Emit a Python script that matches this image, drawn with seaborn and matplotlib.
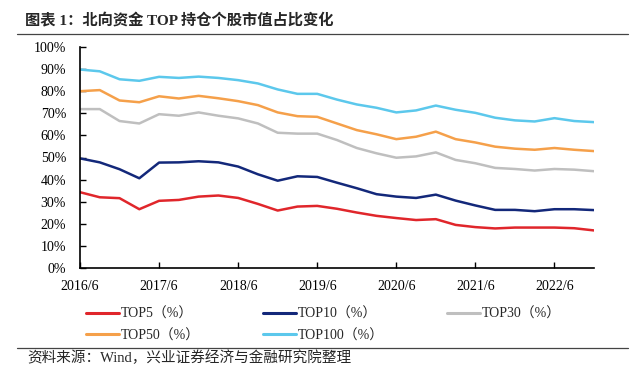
import pandas as pd
import matplotlib.pyplot as plt
import seaborn as sns
from matplotlib.lines import Line2D
from matplotlib.ticker import FuncFormatter

# Quarter-end dates, 2016/6 .. 2022/12
dates = ['2016/6', '2016/9', '2016/12', '2017/3', '2017/6', '2017/9', '2017/12',
         '2018/3', '2018/6', '2018/9', '2018/12', '2019/3', '2019/6', '2019/9',
         '2019/12', '2020/3', '2020/6', '2020/9', '2020/12', '2021/3', '2021/6',
         '2021/9', '2021/12', '2022/3', '2022/6', '2022/9', '2022/12']
tick_labels = ['2016/6', '2017/6', '2018/6', '2019/6', '2020/6', '2021/6', '2022/6']

top5 = [34.3, 32.0, 31.6, 26.6, 30.4, 30.8, 32.3, 32.8, 31.7, 29.0, 26.0, 27.8, 28.1, 26.8,
        25.1, 23.6, 22.6, 21.7, 22.1, 19.5, 18.5, 17.9, 18.3, 18.3, 18.3, 18.0, 17.0]
top10 = [49.6, 47.8, 44.7, 40.6, 47.7, 47.8, 48.3, 47.8, 45.9, 42.4, 39.5, 41.5, 41.2, 38.6,
         36.1, 33.4, 32.3, 31.7, 33.2, 30.5, 28.3, 26.3, 26.3, 25.7, 26.6, 26.6, 26.2]
top30 = [71.9, 71.9, 66.5, 65.4, 69.6, 68.9, 70.4, 68.9, 67.7, 65.4, 61.2, 60.8, 60.8, 57.9,
         54.3, 51.9, 49.9, 50.5, 52.3, 48.9, 47.4, 45.3, 44.8, 44.1, 44.8, 44.5, 43.8]
top50 = [80.0, 80.5, 75.8, 75.0, 77.7, 76.7, 77.9, 76.8, 75.5, 73.7, 70.4, 68.7, 68.4, 65.4,
         62.4, 60.5, 58.3, 59.4, 61.7, 58.3, 56.8, 54.9, 54.0, 53.5, 54.3, 53.5, 52.9]
top100 = [89.8, 89.0, 85.4, 84.7, 86.5, 86.0, 86.6, 86.0, 85.0, 83.5, 80.8, 78.8, 78.8, 76.2,
          74.0, 72.5, 70.4, 71.3, 73.5, 71.6, 70.2, 68.0, 66.8, 66.3, 67.8, 66.5, 66.0]

series_names = ['TOP5（%）', 'TOP10（%）', 'TOP30（%）', 'TOP50（%）', 'TOP100（%）']
colors = ['#E0262B', '#13287A', '#BFBFBF', '#F5A04A', '#5CC8EC']

sns.set_style('ticks')
plt.rcParams['font.family'] = ['Liberation Serif', 'Noto Sans CJK SC', 'DejaVu Sans']
plt.rcParams['axes.unicode_minus'] = False

# long-form frame for seaborn
pos = list(range(len(dates)))
frames = []
for name, vals in zip(series_names, [top5, top10, top30, top50, top100]):
    frames.append(pd.DataFrame({'pos': pos, 'date': dates, 'value': vals, 'series': name}))
df = pd.concat(frames, ignore_index=True)

fig = plt.figure(figsize=(6.4, 3.68), dpi=100, facecolor='white')
ax = fig.add_axes([80 / 640, 1 - 268 / 368, (594 - 80) / 640, (268 - 47) / 368])

sns.lineplot(data=df, x='pos', y='value', hue='series', hue_order=series_names,
             palette=colors, linewidth=1.8, ax=ax, legend=False)

ax.set_xlim(0, len(dates) - 1)
ax.set_ylim(0, 100)
ax.set_yticks(range(0, 101, 10))
ax.yaxis.set_major_formatter(FuncFormatter(lambda v, p: f'{v:.0f}%'))
ax.set_xticks([dates.index(t) for t in tick_labels])
ax.set_xticklabels(tick_labels)
ax.set_xlabel('')
ax.set_ylabel('')
ax.tick_params(axis='both', direction='in', length=4, width=1, colors='black',
               labelsize=10)
ax.tick_params(axis='y', pad=10)
ax.tick_params(axis='x', pad=9)
sns.despine(ax=ax)
for s in ['left', 'bottom']:
    ax.spines[s].set_color('black')
    ax.spines[s].set_linewidth(1.2)

# legend: matplotlib fills columns first, so reorder to get row-wise layout
order = [0, 3, 1, 4, 2]
handles = [Line2D([0], [0], color=colors[i], lw=2.2) for i in order]
labels = [series_names[i] for i in order]
fig.legend(handles, labels, ncol=3, loc='upper left',
           bbox_to_anchor=(73 / 640, 1 - 295 / 368), frameon=False, fontsize=10,
           handlelength=2.4, handletextpad=0.15, columnspacing=4.5,
           labelspacing=0.6)

# title, rules and source
fig.text(25 / 640, 1 - 21 / 368, '图表 1：北向资金 TOP 持仓个股市值占比变化',
         fontsize=11, fontweight='bold', va='center', ha='left')
fig.add_artist(Line2D([17 / 640, 628 / 640], [1 - 34 / 368] * 2, color='#444444', lw=0.9))
fig.add_artist(Line2D([17 / 640, 628 / 640], [1 - 348 / 368] * 2, color='#444444', lw=0.9))
fig.text(27 / 640, 1 - 358 / 368, '资料来源：Wind，兴业证券经济与金融研究院整理',
         fontsize=10.5, va='center', ha='left')

plt.savefig('out.png', dpi=100, facecolor='white')
plt.close()
